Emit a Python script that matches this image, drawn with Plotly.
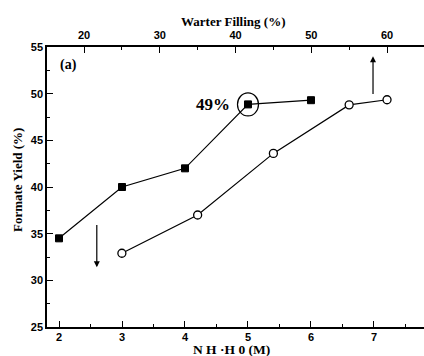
import plotly.graph_objects as go

# ---- data ----
NH_CONC = [2, 3, 4, 5, 6]                  # N2H4·H2O concentration (M), bottom axis
YIELD_CONC = [34.5, 40.0, 42.0, 48.85, 49.3]
WATER_FILL = [25, 35, 45, 55, 60]          # water filling (%), top axis
YIELD_FILL = [32.9, 37.0, 43.6, 48.8, 49.35]

X_TICKS = [2, 3, 4, 5, 6, 7]
X2_TICKS = [20, 30, 40, 50, 60]
Y_TICKS = [25, 30, 35, 40, 45, 50, 55]

SERIF = "Liberation Serif"
SANS = "Liberation Sans"
tickfont = dict(family=SANS, size=11, color="black", weight="bold")

fig = go.Figure()
fig.add_trace(go.Scatter(
    x=NH_CONC, y=YIELD_CONC, mode="lines+markers", xaxis="x", yaxis="y",
    line=dict(color="black", width=1.2),
    marker=dict(symbol="square", size=7, color="black", line=dict(color="black", width=1)),
    showlegend=False))
fig.add_trace(go.Scatter(
    x=WATER_FILL, y=YIELD_FILL, mode="lines+markers", xaxis="x2", yaxis="y",
    line=dict(color="black", width=1.2),
    marker=dict(symbol="circle", size=8, color="white", line=dict(color="black", width=1.3)),
    showlegend=False))

axis_common = dict(showgrid=False, zeroline=False, showline=True, linecolor="black",
                   linewidth=1.5, ticks="inside", tickcolor="black", tickwidth=1.2,
                   ticklen=6, tickfont=tickfont, automargin=False)

fig.update_layout(
    template="none",
    width=424, height=356,
    margin=dict(l=47, r=0, t=47, b=29, pad=0),
    paper_bgcolor="white", plot_bgcolor="white",
    xaxis=dict(range=[1.8095, 7.794], tickvals=X_TICKS, anchor="y", ticklabelstandoff=-1,
               minor=dict(dtick=0.5, ticks="inside", ticklen=3, tickcolor="black", tickwidth=1.2),
               **axis_common),
    xaxis2=dict(range=[15.116, 64.88], tickvals=X2_TICKS, side="top", overlaying="x",
                anchor="y", ticklabelstandoff=2,
                minor=dict(dtick=5, ticks="inside", ticklen=3, tickcolor="black", tickwidth=1.2),
                **axis_common),
    yaxis=dict(range=[25, 55], tickvals=Y_TICKS, anchor="x",
               minor=dict(dtick=2.5, ticks="inside", ticklen=3, tickcolor="black", tickwidth=1.2),
               **axis_common),
)

# circle around the 49% point
fig.add_shape(type="circle", xref="x", yref="y", xsizemode="pixel", ysizemode="pixel",
              xanchor=NH_CONC[3], yanchor=YIELD_CONC[3],
              x0=-10.5, x1=10.5, y0=-11.5, y1=11.5,
              line=dict(color="black", width=1.2))

titlefont = dict(family=SERIF, color="black", weight="bold")


def px_note(text, xpx, ypx, size, angle=0):
    fig.add_annotation(text=text, xref="paper", yref="paper",
                       x=(xpx - 47) / 377, y=(327 - ypx) / 280,
                       xanchor="center", yanchor="middle", showarrow=False,
                       textangle=angle, font=dict(size=size, **titlefont))


px_note("Warter Filling (%)", 232.5, 21, 13)
px_note("N H ·H 0 (M)", 231, 349.5, 13.5)
px_note("Formate Yield (%)", 17, 180, 13, angle=-90)
px_note("(a)", 68.7, 64.5, 14)
px_note("49%", 212.5, 104.5, 17)

# direction arrows
fig.add_annotation(x=2.6, y=31.4, ax=2.6, ay=36.1, xref="x", yref="y", axref="x", ayref="y",
                   showarrow=True, arrowhead=2, arrowsize=1, arrowwidth=1.2, arrowcolor="black", text="")
fig.add_annotation(x=58.15, y=54.0, ax=58.15, ay=49.8, xref="x2", yref="y", axref="x2", ayref="y",
                   showarrow=True, arrowhead=2, arrowsize=1, arrowwidth=1.2, arrowcolor="black", text="")

fig.write_html("out.html", config={"displayModeBar": False},
               post_script="document.body.style.margin='0';document.body.style.overflow='hidden';")
